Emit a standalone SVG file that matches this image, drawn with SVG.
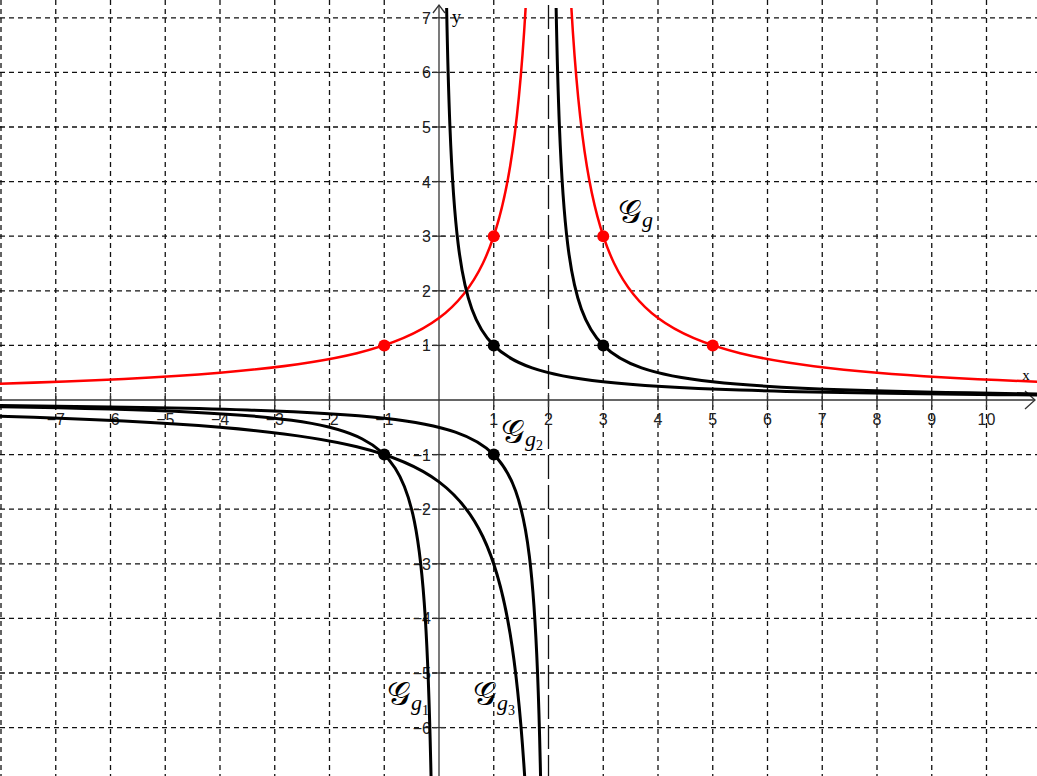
<svg xmlns="http://www.w3.org/2000/svg" width="1037" height="776" viewBox="0 0 1037 776">
<style>
.grid line{stroke:#111;stroke-width:1.3;stroke-dasharray:5 4}
.axis{stroke:#333;stroke-width:1.3;fill:none}
.tick line{stroke:#333;stroke-width:1.3}
.num{font-family:"Liberation Sans",Arial,sans-serif;font-size:16px;fill:#222}
.nx{text-anchor:middle}
.ny{text-anchor:end}
.curve{fill:none;vector-effect:non-scaling-stroke;stroke-linejoin:round}
.red{stroke:#ff0000;stroke-width:2.5}
.blk{stroke:#000;stroke-width:3}
.lab{font-family:"DejaVu Serif","DejaVu Sans",serif;fill:#000}
.G{font-size:33px;font-weight:normal}
.sg{font-family:"Liberation Serif",serif;font-style:italic;font-size:22px}
.sd{font-family:"Liberation Serif",serif;font-size:14px}
</style>
<defs>
<clipPath id="plot"><rect x="0" y="8" width="1037" height="768"/></clipPath>
</defs>
<rect width="1037" height="776" fill="#fff"/>
<g id="grid" class="grid">
<line x1="1" y1="0" x2="1" y2="776"/>
<line x1="55.75" y1="0" x2="55.75" y2="776"/>
<line x1="110.5" y1="0" x2="110.5" y2="776"/>
<line x1="165.25" y1="0" x2="165.25" y2="776"/>
<line x1="220" y1="0" x2="220" y2="776"/>
<line x1="274.75" y1="0" x2="274.75" y2="776"/>
<line x1="329.5" y1="0" x2="329.5" y2="776"/>
<line x1="384.25" y1="0" x2="384.25" y2="776"/>
<line x1="493.75" y1="0" x2="493.75" y2="776"/>
<line x1="603.25" y1="0" x2="603.25" y2="776"/>
<line x1="658" y1="0" x2="658" y2="776"/>
<line x1="712.75" y1="0" x2="712.75" y2="776"/>
<line x1="767.5" y1="0" x2="767.5" y2="776"/>
<line x1="822.25" y1="0" x2="822.25" y2="776"/>
<line x1="877" y1="0" x2="877" y2="776"/>
<line x1="931.75" y1="0" x2="931.75" y2="776"/>
<line x1="986.5" y1="0" x2="986.5" y2="776"/>
<line x1="0" y1="17.8" x2="1037" y2="17.8"/>
<line x1="0" y1="72.4" x2="1037" y2="72.4"/>
<line x1="0" y1="127" x2="1037" y2="127"/>
<line x1="0" y1="181.6" x2="1037" y2="181.6"/>
<line x1="0" y1="236.2" x2="1037" y2="236.2"/>
<line x1="0" y1="290.8" x2="1037" y2="290.8"/>
<line x1="0" y1="345.4" x2="1037" y2="345.4"/>
<line x1="0" y1="454.6" x2="1037" y2="454.6"/>
<line x1="0" y1="509.2" x2="1037" y2="509.2"/>
<line x1="0" y1="563.8" x2="1037" y2="563.8"/>
<line x1="0" y1="618.4" x2="1037" y2="618.4"/>
<line x1="0" y1="673" x2="1037" y2="673"/>
<line x1="0" y1="727.6" x2="1037" y2="727.6"/>
</g>
<g id="asymptote">
<line x1="548.5" y1="5" x2="548.5" y2="776" stroke="#111" stroke-width="1.3" stroke-dasharray="24 6"/>
</g>
<g id="axes">
<line class="axis" x1="0" y1="400" x2="1035" y2="400"/>
<polyline class="axis" points="1025,391 1035,400 1025,409"/>
<line class="axis" x1="439" y1="6" x2="439" y2="776"/>
<polyline class="axis" points="433,13 439,5 445,13"/>
<g class="tick">
<line x1="55.75" y1="393" x2="55.75" y2="407"/>
<line x1="110.5" y1="393" x2="110.5" y2="407"/>
<line x1="165.25" y1="393" x2="165.25" y2="407"/>
<line x1="220" y1="393" x2="220" y2="407"/>
<line x1="274.75" y1="393" x2="274.75" y2="407"/>
<line x1="329.5" y1="393" x2="329.5" y2="407"/>
<line x1="384.25" y1="393" x2="384.25" y2="407"/>
<line x1="493.75" y1="393" x2="493.75" y2="407"/>
<line x1="548.5" y1="393" x2="548.5" y2="407"/>
<line x1="603.25" y1="393" x2="603.25" y2="407"/>
<line x1="658" y1="393" x2="658" y2="407"/>
<line x1="712.75" y1="393" x2="712.75" y2="407"/>
<line x1="767.5" y1="393" x2="767.5" y2="407"/>
<line x1="822.25" y1="393" x2="822.25" y2="407"/>
<line x1="877" y1="393" x2="877" y2="407"/>
<line x1="931.75" y1="393" x2="931.75" y2="407"/>
<line x1="986.5" y1="393" x2="986.5" y2="407"/>
<line x1="433" y1="17.8" x2="445" y2="17.8"/>
<line x1="433" y1="72.4" x2="445" y2="72.4"/>
<line x1="433" y1="127" x2="445" y2="127"/>
<line x1="433" y1="181.6" x2="445" y2="181.6"/>
<line x1="433" y1="236.2" x2="445" y2="236.2"/>
<line x1="433" y1="290.8" x2="445" y2="290.8"/>
<line x1="433" y1="345.4" x2="445" y2="345.4"/>
<line x1="433" y1="454.6" x2="445" y2="454.6"/>
<line x1="433" y1="509.2" x2="445" y2="509.2"/>
<line x1="433" y1="563.8" x2="445" y2="563.8"/>
<line x1="433" y1="618.4" x2="445" y2="618.4"/>
<line x1="433" y1="673" x2="445" y2="673"/>
<line x1="433" y1="727.6" x2="445" y2="727.6"/>
</g>
<g id="xlabels" class="num nx">
<text x="55.75" y="425">−7</text>
<text x="110.5" y="425">−6</text>
<text x="165.25" y="425">−5</text>
<text x="220" y="425">−4</text>
<text x="274.75" y="425">−3</text>
<text x="329.5" y="425">−2</text>
<text x="384.25" y="425">−1</text>
<text x="493.75" y="425">1</text>
<text x="548.5" y="425">2</text>
<text x="603.25" y="425">3</text>
<text x="658" y="425">4</text>
<text x="712.75" y="425">5</text>
<text x="767.5" y="425">6</text>
<text x="822.25" y="425">7</text>
<text x="877" y="425">8</text>
<text x="931.75" y="425">9</text>
<text x="986.5" y="425">10</text>
</g>
<g id="ylabels" class="num ny">
<text x="431" y="23.8">7</text>
<text x="431" y="78.4">6</text>
<text x="431" y="133">5</text>
<text x="431" y="187.6">4</text>
<text x="431" y="242.2">3</text>
<text x="431" y="296.8">2</text>
<text x="431" y="351.4">1</text>
<text x="431" y="460.6">−1</text>
<text x="431" y="515.2">−2</text>
<text x="431" y="569.8">−3</text>
<text x="431" y="624.4">−4</text>
<text x="431" y="679">−5</text>
<text x="431" y="733.6">−6</text>
</g>
<text x="1026" y="380" font-family="Liberation Serif,serif" font-size="15" text-anchor="middle">x</text>
<text x="452" y="23" font-family="Liberation Serif,serif" font-size="18">y</text>
</g>
<g id="curves" clip-path="url(#plot)">
<g transform="translate(439,400) scale(54.75,-54.6)">
<path id="g" class="curve red" d="M-8.2,0.2941 Q-5.556,0.3704 -4,0.5 Q-2.421,0.6316 -1.5,0.8571 Q-0.545,1.0909 0,1.5 Q0.5,1.875 0.8,2.5 Q1.1158,3.158 1.3,4.2857 Q1.4909,5.4545 1.6,7.5 Q1.6384,8.219 1.67,9.0909 M2.33,9.0909 Q2.3616,8.219 2.4,7.5 Q2.5091,5.4545 2.7,4.2857 Q2.8842,3.158 3.2,2.5 Q3.5,1.875 4,1.5 Q4.545,1.0909 5.5,0.8571 Q6.421,0.6316 8,0.5 Q9.263,0.3947 11.2,0.3261"/>
<path id="g1" class="curve blk" d="M0.12,8.333 Q0.15,6.25 0.2,5 Q0.2545,3.636 0.35,2.857 Q0.4421,2.105 0.6,1.6667 Q0.75,1.25 1,1 Q1.2593,0.7407 1.7,0.5882 Q2.1702,0.4255 3,0.3333 Q3.882,0.2353 5.5,0.1818 Q7.377,0.1198 11.2,0.0893 M-8.2,-0.12195 Q-5.811,-0.1575 -4.5,-0.2222 Q-3.214,-0.2857 -2.5,-0.4 Q-1.795,-0.5128 -1.4,-0.7143 Q-1.018,-0.9091 -0.8,-1.25 Q-0.576,-1.6 -0.45,-2.2222 Q-0.3214,-2.857 -0.25,-4 Q-0.1622,-5.405 -0.12,-8.333"/>
<path id="g2" class="curve blk" d="M2.12,8.333 Q2.15,6.25 2.2,5 Q2.2545,3.636 2.35,2.857 Q2.4421,2.105 2.6,1.6667 Q2.75,1.25 3,1 Q3.2593,0.7407 3.7,0.5882 Q4.1702,0.4255 5,0.3333 Q5.882,0.2353 7.5,0.1818 Q8.884,0.1361 11.2,0.1087 M-8.2,-0.098 Q-5.146,-0.1274 -3.5,-0.1818 Q-1.882,-0.2353 -1,-0.3333 Q-0.1702,-0.4255 0.3,-0.5882 Q0.7407,-0.7407 1,-1 Q1.25,-1.25 1.4,-1.6667 Q1.5579,-2.105 1.65,-2.857 Q1.7455,-3.636 1.8,-5 Q1.85,-6.25 1.88,-8.333"/>
<path id="g3" class="curve blk" d="M-8.2,-0.2941 Q-5.556,-0.3704 -4,-0.5 Q-2.421,-0.6316 -1.5,-0.8571 Q-0.545,-1.0909 0,-1.5 Q0.5,-1.875 0.8,-2.5 Q1.1158,-3.158 1.3,-4.2857 Q1.4909,-5.4545 1.6,-7.5"/>
</g>
</g>
<g id="points">
<circle cx="493.75" cy="236.2" r="6" fill="#ff0000"/>
<circle cx="603.25" cy="236.2" r="6" fill="#ff0000"/>
<circle cx="384.25" cy="345.4" r="6" fill="#ff0000"/>
<circle cx="712.75" cy="345.4" r="6" fill="#ff0000"/>
<circle cx="493.75" cy="345.4" r="6" fill="#000"/>
<circle cx="603.25" cy="345.4" r="6" fill="#000"/>
<circle cx="384.25" cy="454.6" r="6" fill="#000"/>
<circle cx="493.75" cy="454.6" r="6" fill="#000"/>
</g>
<g id="labels" class="lab">
<text x="618" y="223"><tspan class="G">𝒢</tspan><tspan class="sg" dy="4">g</tspan></text>
<text x="501" y="443"><tspan class="G">𝒢</tspan><tspan class="sg" dy="3">g</tspan><tspan class="sd" dy="4">2</tspan></text>
<text x="387" y="705"><tspan class="G">𝒢</tspan><tspan class="sg" dy="5">g</tspan><tspan class="sd" dy="5">1</tspan></text>
<text x="473" y="705"><tspan class="G">𝒢</tspan><tspan class="sg" dy="5">g</tspan><tspan class="sd" dy="5">3</tspan></text>
</g>
</svg>
